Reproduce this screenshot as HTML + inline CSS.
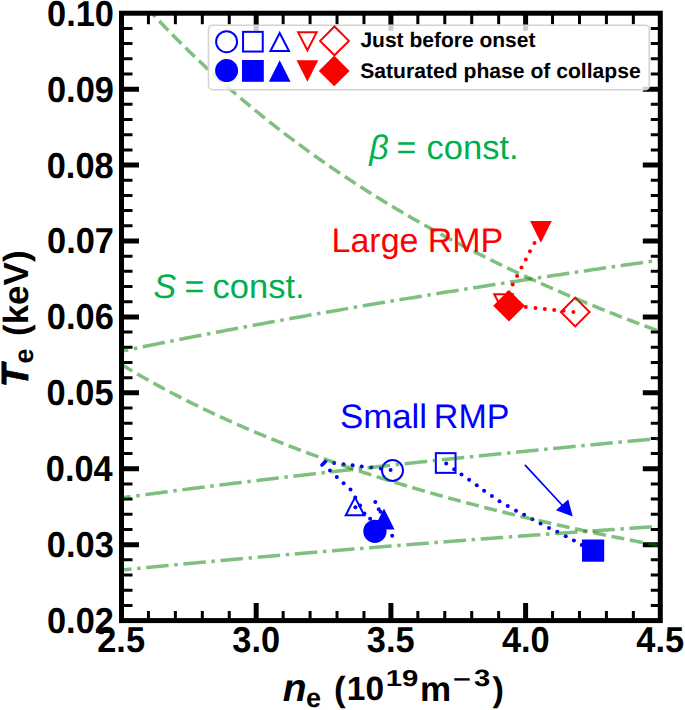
<!DOCTYPE html>
<html><head><meta charset="utf-8"><style>
html,body{margin:0;padding:0;background:#fff;}
svg{display:block;}
text{font-family:"Liberation Sans",sans-serif;text-rendering:geometricPrecision;}
</style></head><body>
<svg width="685" height="710" viewBox="0 0 685 710">
<defs><clipPath id="ax"><rect x="121.5" y="13.22" width="538.8" height="607.37"/></clipPath></defs>
<rect width="685" height="710" fill="#fff"/>
<path d="M256.2,620.59V603.09 M256.2,13.22V30.72 M390.9,620.59V603.09 M390.9,13.22V30.72 M525.6,620.59V603.09 M525.6,13.22V30.72 M121.5,544.67H139 M660.3,544.67H642.8 M121.5,468.75H139 M660.3,468.75H642.8 M121.5,392.82H139 M660.3,392.82H642.8 M121.5,316.9H139 M660.3,316.9H642.8 M121.5,240.98H139 M660.3,240.98H642.8 M121.5,165.06H139 M660.3,165.06H642.8 M121.5,89.14H139 M660.3,89.14H642.8" stroke="#000" stroke-width="5"/><path d="M148.44,620.59V611.09 M148.44,13.22V24.22 M175.38,620.59V611.09 M175.38,13.22V24.22 M202.32,620.59V611.09 M202.32,13.22V24.22 M229.26,620.59V611.09 M229.26,13.22V24.22 M283.14,620.59V611.09 M283.14,13.22V24.22 M310.08,620.59V611.09 M310.08,13.22V24.22 M337.02,620.59V611.09 M337.02,13.22V24.22 M363.96,620.59V611.09 M363.96,13.22V24.22 M417.84,620.59V611.09 M417.84,13.22V24.22 M444.78,620.59V611.09 M444.78,13.22V24.22 M471.72,620.59V611.09 M471.72,13.22V24.22 M498.66,620.59V611.09 M498.66,13.22V24.22 M552.54,620.59V611.09 M552.54,13.22V24.22 M579.48,620.59V611.09 M579.48,13.22V24.22 M606.42,620.59V611.09 M606.42,13.22V24.22 M633.36,620.59V611.09 M633.36,13.22V24.22 M121.5,605.4H132.5 M660.3,605.4H650.8 M121.5,590.22H132.5 M660.3,590.22H650.8 M121.5,575.04H132.5 M660.3,575.04H650.8 M121.5,559.85H132.5 M660.3,559.85H650.8 M121.5,529.48H132.5 M660.3,529.48H650.8 M121.5,514.3H132.5 M660.3,514.3H650.8 M121.5,499.11H132.5 M660.3,499.11H650.8 M121.5,483.93H132.5 M660.3,483.93H650.8 M121.5,453.56H132.5 M660.3,453.56H650.8 M121.5,438.38H132.5 M660.3,438.38H650.8 M121.5,423.19H132.5 M660.3,423.19H650.8 M121.5,408.01H132.5 M660.3,408.01H650.8 M121.5,377.64H132.5 M660.3,377.64H650.8 M121.5,362.46H132.5 M660.3,362.46H650.8 M121.5,347.27H132.5 M660.3,347.27H650.8 M121.5,332.09H132.5 M660.3,332.09H650.8 M121.5,301.72H132.5 M660.3,301.72H650.8 M121.5,286.54H132.5 M660.3,286.54H650.8 M121.5,271.35H132.5 M660.3,271.35H650.8 M121.5,256.17H132.5 M660.3,256.17H650.8 M121.5,225.8H132.5 M660.3,225.8H650.8 M121.5,210.61H132.5 M660.3,210.61H650.8 M121.5,195.43H132.5 M660.3,195.43H650.8 M121.5,180.25H132.5 M660.3,180.25H650.8 M121.5,149.88H132.5 M660.3,149.88H650.8 M121.5,134.69H132.5 M660.3,134.69H650.8 M121.5,119.51H132.5 M660.3,119.51H650.8 M121.5,104.33H132.5 M660.3,104.33H650.8 M121.5,73.96H132.5 M660.3,73.96H650.8 M121.5,58.77H132.5 M660.3,58.77H650.8 M121.5,43.59H132.5 M660.3,43.59H650.8 M121.5,28.4H132.5 M660.3,28.4H650.8" stroke="#000" stroke-width="3"/>
<g clip-path="url(#ax)">
<circle cx="392.5" cy="470.4" r="10.5" fill="none" stroke="#0000ff" stroke-width="2.0"/><rect x="435.85" y="453.15" width="19.7" height="19.7" fill="none" stroke="#0000ff" stroke-width="2.0"/><polygon points="355,497.35 345.75,515.25 364.25,515.25" fill="none" stroke="#0000ff" stroke-width="2.0" stroke-linejoin="miter"/><polygon points="384,508.6 373.4,529.6 394.6,529.6" fill="#0000ff"/><circle cx="374.9" cy="531.3" r="11.6" fill="#0000ff"/><rect x="582" y="539.5" width="22.2" height="22.2" fill="#0000ff"/><path d="M322,465 L325.5,461.5" stroke="#0000ff" stroke-width="3.6" stroke-linecap="round"/><circle cx="390.6" cy="469.9" r="2.0" fill="#0000ff"/><circle cx="380.8" cy="468.4" r="2.0" fill="#0000ff"/><circle cx="371.3" cy="467.6" r="2.0" fill="#0000ff"/><circle cx="361.7" cy="466.4" r="2.0" fill="#0000ff"/><circle cx="352.6" cy="465.3" r="2.0" fill="#0000ff"/><circle cx="343.5" cy="464.2" r="2.0" fill="#0000ff"/><circle cx="334.1" cy="463.1" r="2.0" fill="#0000ff"/><circle cx="330" cy="470.6" r="2.0" fill="#0000ff"/><circle cx="336.8" cy="477" r="2.0" fill="#0000ff"/><circle cx="343.6" cy="483.2" r="2.0" fill="#0000ff"/><circle cx="350.5" cy="489.6" r="2.0" fill="#0000ff"/><circle cx="355.3" cy="497.5" r="2.0" fill="#0000ff"/><circle cx="360.1" cy="505.4" r="2.0" fill="#0000ff"/><circle cx="364.4" cy="513.5" r="2.0" fill="#0000ff"/><circle cx="370.1" cy="518.7" r="2.0" fill="#0000ff"/><circle cx="355.4" cy="507.3" r="2.0" fill="#0000ff"/><circle cx="375.3" cy="502" r="2.0" fill="#0000ff"/><circle cx="378.7" cy="509.3" r="2.0" fill="#0000ff"/><circle cx="380.6" cy="511.8" r="2.0" fill="#0000ff"/><circle cx="392.2" cy="535.8" r="2.0" fill="#0000ff"/><circle cx="446.2" cy="463.4" r="2.0" fill="#0000ff"/><circle cx="454.2" cy="469.2" r="2.0" fill="#0000ff"/><circle cx="461.5" cy="474.6" r="2.0" fill="#0000ff"/><circle cx="469.1" cy="479.7" r="2.0" fill="#0000ff"/><circle cx="476.8" cy="485.3" r="2.0" fill="#0000ff"/><circle cx="484.1" cy="490.8" r="2.0" fill="#0000ff"/><circle cx="491.9" cy="495.9" r="2.0" fill="#0000ff"/><circle cx="499.5" cy="501.3" r="2.0" fill="#0000ff"/><circle cx="507.7" cy="506" r="2.0" fill="#0000ff"/><circle cx="516" cy="510.8" r="2.0" fill="#0000ff"/><circle cx="524.1" cy="514.7" r="2.0" fill="#0000ff"/><circle cx="532.4" cy="519.2" r="2.0" fill="#0000ff"/><circle cx="540.6" cy="523.4" r="2.0" fill="#0000ff"/><circle cx="549" cy="528" r="2.0" fill="#0000ff"/><circle cx="557.3" cy="531.8" r="2.0" fill="#0000ff"/><circle cx="565.7" cy="536.2" r="2.0" fill="#0000ff"/><circle cx="573.9" cy="540.6" r="2.0" fill="#0000ff"/><circle cx="581.8" cy="545" r="2.0" fill="#0000ff"/><polygon points="503.5,312.15 494.25,294.25 512.75,294.25" fill="none" stroke="#ff0000" stroke-width="2.0" stroke-linejoin="miter"/><polygon points="509,290 524.8,305.8 509,321.6 493.2,305.8" fill="#ff0000"/><polygon points="540.9,242.75 530.05,221.05 551.75,221.05" fill="#ff0000"/><polygon points="575.2,297.61 589.59,312 575.2,326.39 560.81,312" fill="none" stroke="#ff0000" stroke-width="2.0"/><circle cx="534.5" cy="243" r="2.0" fill="#ff0000"/><circle cx="530" cy="251.2" r="2.0" fill="#ff0000"/><circle cx="525.8" cy="259.5" r="2.0" fill="#ff0000"/><circle cx="521.5" cy="267.5" r="2.0" fill="#ff0000"/><circle cx="517.1" cy="276" r="2.0" fill="#ff0000"/><circle cx="512.7" cy="284.4" r="2.0" fill="#ff0000"/><circle cx="508.3" cy="292.7" r="2.0" fill="#ff0000"/><circle cx="503.8" cy="301.3" r="2.0" fill="#ff0000"/><circle cx="573.4" cy="311.9" r="2.0" fill="#ff0000"/><circle cx="563.6" cy="310.8" r="2.0" fill="#ff0000"/><circle cx="554.2" cy="310" r="2.0" fill="#ff0000"/><circle cx="544.8" cy="309" r="2.0" fill="#ff0000"/><circle cx="535.5" cy="308" r="2.0" fill="#ff0000"/><circle cx="525.8" cy="307" r="2.0" fill="#ff0000"/><circle cx="516.5" cy="306.4" r="2.0" fill="#ff0000"/>
<path d="M134.97,-5.54 L136.32,-4.01 L137.67,-2.49 L139.02,-0.98 L140.37,0.53 L141.72,2.03 L143.07,3.53 L144.42,5.02 L145.77,6.51 L147.12,7.99 L148.47,9.46 L149.82,10.93 L151.17,12.39 L152.52,13.85 L153.88,15.3 L155.23,16.74 L156.58,18.18 L157.93,19.62 L159.28,21.05 L160.63,22.47 L161.98,23.89 L163.33,25.3 L164.68,26.71 L166.03,28.11 L167.38,29.51 L168.73,30.9 L170.08,32.29 L171.43,33.67 L172.78,35.05 L174.13,36.42 L175.48,37.79 L176.83,39.15 L178.18,40.5 L179.53,41.85 L180.88,43.2 L182.23,44.54 L183.58,45.88 L184.93,47.21 L186.28,48.54 L187.63,49.86 L188.99,51.17 L190.34,52.49 L191.69,53.79 L193.04,55.1 L194.39,56.39 L195.74,57.69 L197.09,58.98 L198.44,60.26 L199.79,61.54 L201.14,62.81 L202.49,64.08 L203.84,65.35 L205.19,66.61 L206.54,67.87 L207.89,69.12 L209.24,70.37 L210.59,71.61 L211.94,72.85 L213.29,74.08 L214.64,75.31 L215.99,76.54 L217.34,77.76 L218.69,78.98 L220.04,80.19 L221.39,81.4 L222.74,82.6 L224.09,83.8 L225.45,85 L226.8,86.19 L228.15,87.38 L229.5,88.56 L230.85,89.74 L232.2,90.92 L233.55,92.09 L234.9,93.26 L236.25,94.42 L237.6,95.58 L238.95,96.74 L240.3,97.89 L241.65,99.03 L243,100.18 L244.35,101.32 L245.7,102.45 L247.05,103.59 L248.4,104.72 L249.75,105.84 L251.1,106.96 L252.45,108.08 L253.8,109.19 L255.15,110.3 L256.5,111.41 L257.85,112.51 L259.2,113.61 L260.55,114.7 L261.91,115.79 L263.26,116.88 L264.61,117.97 L265.96,119.05 L267.31,120.12 L268.66,121.2 L270.01,122.27 L271.36,123.33 L272.71,124.39 L274.06,125.45 L275.41,126.51 L276.76,127.56 L278.11,128.61 L279.46,129.66 L280.81,130.7 L282.16,131.74 L283.51,132.77 L284.86,133.81 L286.21,134.83 L287.56,135.86 L288.91,136.88 L290.26,137.9 L291.61,138.92 L292.96,139.93 L294.31,140.94 L295.66,141.94 L297.02,142.95 L298.37,143.95 L299.72,144.94 L301.07,145.94 L302.42,146.93 L303.77,147.91 L305.12,148.9 L306.47,149.88 L307.82,150.86 L309.17,151.83 L310.52,152.8 L311.87,153.77 L313.22,154.74 L314.57,155.7 L315.92,156.66 L317.27,157.62 L318.62,158.57 L319.97,159.52 L321.32,160.47 L322.67,161.41 L324.02,162.35 L325.37,163.29 L326.72,164.23 L328.07,165.16 L329.42,166.09 L330.77,167.02 L332.12,167.95 L333.48,168.87 L334.83,169.79 L336.18,170.7 L337.53,171.62 L338.88,172.53 L340.23,173.43 L341.58,174.34 L342.93,175.24 L344.28,176.14 L345.63,177.04 L346.98,177.93 L348.33,178.83 L349.68,179.71 L351.03,180.6 L352.38,181.48 L353.73,182.37 L355.08,183.24 L356.43,184.12 L357.78,184.99 L359.13,185.86 L360.48,186.73 L361.83,187.6 L363.18,188.46 L364.53,189.32 L365.88,190.18 L367.23,191.03 L368.59,191.89 L369.94,192.74 L371.29,193.58 L372.64,194.43 L373.99,195.27 L375.34,196.11 L376.69,196.95 L378.04,197.79 L379.39,198.62 L380.74,199.45 L382.09,200.28 L383.44,201.1 L384.79,201.93 L386.14,202.75 L387.49,203.57 L388.84,204.38 L390.19,205.2 L391.54,206.01 L392.89,206.82 L394.24,207.63 L395.59,208.43 L396.94,209.23 L398.29,210.04 L399.64,210.83 L400.99,211.63 L402.34,212.42 L403.69,213.21 L405.05,214 L406.4,214.79 L407.75,215.57 L409.1,216.36 L410.45,217.14 L411.8,217.91 L413.15,218.69 L414.5,219.46 L415.85,220.24 L417.2,221.01 L418.55,221.77 L419.9,222.54 L421.25,223.3 L422.6,224.06 L423.95,224.82 L425.3,225.58 L426.65,226.33 L428,227.08 L429.35,227.83 L430.7,228.58 L432.05,229.33 L433.4,230.07 L434.75,230.82 L436.1,231.56 L437.45,232.29 L438.8,233.03 L440.15,233.76 L441.51,234.5 L442.86,235.23 L444.21,235.95 L445.56,236.68 L446.91,237.41 L448.26,238.13 L449.61,238.85 L450.96,239.57 L452.31,240.28 L453.66,241 L455.01,241.71 L456.36,242.42 L457.71,243.13 L459.06,243.84 L460.41,244.54 L461.76,245.24 L463.11,245.95 L464.46,246.65 L465.81,247.34 L467.16,248.04 L468.51,248.73 L469.86,249.42 L471.21,250.11 L472.56,250.8 L473.91,251.49 L475.26,252.17 L476.62,252.86 L477.97,253.54 L479.32,254.22 L480.67,254.9 L482.02,255.57 L483.37,256.25 L484.72,256.92 L486.07,257.59 L487.42,258.26 L488.77,258.92 L490.12,259.59 L491.47,260.25 L492.82,260.92 L494.17,261.58 L495.52,262.23 L496.87,262.89 L498.22,263.55 L499.57,264.2 L500.92,264.85 L502.27,265.5 L503.62,266.15 L504.97,266.8 L506.32,267.44 L507.67,268.09 L509.02,268.73 L510.37,269.37 L511.72,270.01 L513.08,270.64 L514.43,271.28 L515.78,271.91 L517.13,272.55 L518.48,273.18 L519.83,273.8 L521.18,274.43 L522.53,275.06 L523.88,275.68 L525.23,276.31 L526.58,276.93 L527.93,277.55 L529.28,278.16 L530.63,278.78 L531.98,279.4 L533.33,280.01 L534.68,280.62 L536.03,281.23 L537.38,281.84 L538.73,282.45 L540.08,283.05 L541.43,283.66 L542.78,284.26 L544.13,284.86 L545.48,285.46 L546.83,286.06 L548.19,286.66 L549.54,287.25 L550.89,287.85 L552.24,288.44 L553.59,289.03 L554.94,289.62 L556.29,290.21 L557.64,290.8 L558.99,291.38 L560.34,291.96 L561.69,292.55 L563.04,293.13 L564.39,293.71 L565.74,294.29 L567.09,294.86 L568.44,295.44 L569.79,296.01 L571.14,296.59 L572.49,297.16 L573.84,297.73 L575.19,298.3 L576.54,298.86 L577.89,299.43 L579.24,299.99 L580.59,300.56 L581.94,301.12 L583.29,301.68 L584.65,302.24 L586,302.8 L587.35,303.35 L588.7,303.91 L590.05,304.46 L591.4,305.02 L592.75,305.57 L594.1,306.12 L595.45,306.67 L596.8,307.21 L598.15,307.76 L599.5,308.3 L600.85,308.85 L602.2,309.39 L603.55,309.93 L604.9,310.47 L606.25,311.01 L607.6,311.55 L608.95,312.08 L610.3,312.62 L611.65,313.15 L613,313.68 L614.35,314.22 L615.7,314.75 L617.05,315.27 L618.4,315.8 L619.75,316.33 L621.11,316.85 L622.46,317.38 L623.81,317.9 L625.16,318.42 L626.51,318.94 L627.86,319.46 L629.21,319.98 L630.56,320.49 L631.91,321.01 L633.26,321.52 L634.61,322.04 L635.96,322.55 L637.31,323.06 L638.66,323.57 L640.01,324.08 L641.36,324.59 L642.71,325.09 L644.06,325.6 L645.41,326.1 L646.76,326.6 L648.11,327.11 L649.46,327.61 L650.81,328.11 L652.16,328.6 L653.51,329.1 L654.86,329.6 L656.22,330.09 L657.57,330.59 L658.92,331.08 L660.27,331.57 L661.62,332.06 L662.97,332.55 L664.32,333.04 L665.67,333.53 L667.02,334.01 L668.37,334.5 L669.72,334.98 L671.07,335.46 L672.42,335.95 L673.77,336.43" fill="none" stroke="rgb(0,128,0)" stroke-opacity="0.5" stroke-width="3.52" stroke-dasharray="13.02 5.63" stroke-dashoffset="1.22"/><path d="M108.03,356.26 L109.45,357.15 L110.87,358.04 L112.28,358.92 L113.7,359.8 L115.12,360.68 L116.54,361.55 L117.96,362.42 L119.37,363.29 L120.79,364.15 L122.21,365.01 L123.63,365.87 L125.04,366.72 L126.46,367.57 L127.88,368.41 L129.3,369.25 L130.72,370.09 L132.13,370.92 L133.55,371.75 L134.97,372.58 L136.39,373.4 L137.81,374.22 L139.22,375.04 L140.64,375.85 L142.06,376.66 L143.48,377.47 L144.9,378.27 L146.31,379.07 L147.73,379.87 L149.15,380.67 L150.57,381.46 L151.98,382.24 L153.4,383.03 L154.82,383.81 L156.24,384.59 L157.66,385.36 L159.07,386.13 L160.49,386.9 L161.91,387.67 L163.33,388.43 L164.75,389.19 L166.16,389.95 L167.58,390.7 L169,391.45 L170.42,392.2 L171.84,392.94 L173.25,393.69 L174.67,394.42 L176.09,395.16 L177.51,395.89 L178.92,396.62 L180.34,397.35 L181.76,398.08 L183.18,398.8 L184.6,399.52 L186.01,400.23 L187.43,400.95 L188.85,401.66 L190.27,402.37 L191.69,403.07 L193.1,403.78 L194.52,404.48 L195.94,405.17 L197.36,405.87 L198.78,406.56 L200.19,407.25 L201.61,407.94 L203.03,408.62 L204.45,409.3 L205.86,409.98 L207.28,410.66 L208.7,411.33 L210.12,412.01 L211.54,412.68 L212.95,413.34 L214.37,414.01 L215.79,414.67 L217.21,415.33 L218.63,415.99 L220.04,416.64 L221.46,417.29 L222.88,417.94 L224.3,418.59 L225.72,419.23 L227.13,419.88 L228.55,420.52 L229.97,421.16 L231.39,421.79 L232.8,422.43 L234.22,423.06 L235.64,423.69 L237.06,424.31 L238.48,424.94 L239.89,425.56 L241.31,426.18 L242.73,426.8 L244.15,427.41 L245.57,428.03 L246.98,428.64 L248.4,429.25 L249.82,429.85 L251.24,430.46 L252.66,431.06 L254.07,431.66 L255.49,432.26 L256.91,432.85 L258.33,433.45 L259.74,434.04 L261.16,434.63 L262.58,435.22 L264,435.81 L265.42,436.39 L266.83,436.97 L268.25,437.55 L269.67,438.13 L271.09,438.7 L272.51,439.28 L273.92,439.85 L275.34,440.42 L276.76,440.99 L278.18,441.55 L279.6,442.12 L281.01,442.68 L282.43,443.24 L283.85,443.8 L285.27,444.36 L286.68,444.91 L288.1,445.46 L289.52,446.01 L290.94,446.56 L292.36,447.11 L293.77,447.66 L295.19,448.2 L296.61,448.74 L298.03,449.28 L299.45,449.82 L300.86,450.36 L302.28,450.89 L303.7,451.42 L305.12,451.95 L306.54,452.48 L307.95,453.01 L309.37,453.54 L310.79,454.06 L312.21,454.58 L313.62,455.1 L315.04,455.62 L316.46,456.14 L317.88,456.66 L319.3,457.17 L320.71,457.68 L322.13,458.19 L323.55,458.7 L324.97,459.21 L326.39,459.71 L327.8,460.22 L329.22,460.72 L330.64,461.22 L332.06,461.72 L333.48,462.22 L334.89,462.71 L336.31,463.21 L337.73,463.7 L339.15,464.19 L340.56,464.68 L341.98,465.17 L343.4,465.66 L344.82,466.14 L346.24,466.62 L347.65,467.11 L349.07,467.59 L350.49,468.07 L351.91,468.54 L353.33,469.02 L354.74,469.49 L356.16,469.97 L357.58,470.44 L359,470.91 L360.42,471.38 L361.83,471.84 L363.25,472.31 L364.67,472.77 L366.09,473.24 L367.5,473.7 L368.92,474.16 L370.34,474.62 L371.76,475.07 L373.18,475.53 L374.59,475.98 L376.01,476.44 L377.43,476.89 L378.85,477.34 L380.27,477.79 L381.68,478.23 L383.1,478.68 L384.52,479.13 L385.94,479.57 L387.36,480.01 L388.77,480.45 L390.19,480.89 L391.61,481.33 L393.03,481.77 L394.44,482.2 L395.86,482.64 L397.28,483.07 L398.7,483.5 L400.12,483.93 L401.53,484.36 L402.95,484.79 L404.37,485.21 L405.79,485.64 L407.21,486.06 L408.62,486.49 L410.04,486.91 L411.46,487.33 L412.88,487.75 L414.3,488.16 L415.71,488.58 L417.13,489 L418.55,489.41 L419.97,489.82 L421.38,490.23 L422.8,490.64 L424.22,491.05 L425.64,491.46 L427.06,491.87 L428.47,492.27 L429.89,492.68 L431.31,493.08 L432.73,493.48 L434.15,493.89 L435.56,494.29 L436.98,494.68 L438.4,495.08 L439.82,495.48 L441.24,495.87 L442.65,496.27 L444.07,496.66 L445.49,497.05 L446.91,497.44 L448.32,497.83 L449.74,498.22 L451.16,498.61 L452.58,499 L454,499.38 L455.41,499.77 L456.83,500.15 L458.25,500.53 L459.67,500.91 L461.09,501.29 L462.5,501.67 L463.92,502.05 L465.34,502.43 L466.76,502.8 L468.18,503.18 L469.59,503.55 L471.01,503.92 L472.43,504.29 L473.85,504.67 L475.26,505.04 L476.68,505.4 L478.1,505.77 L479.52,506.14 L480.94,506.5 L482.35,506.87 L483.77,507.23 L485.19,507.59 L486.61,507.96 L488.03,508.32 L489.44,508.68 L490.86,509.03 L492.28,509.39 L493.7,509.75 L495.12,510.1 L496.53,510.46 L497.95,510.81 L499.37,511.17 L500.79,511.52 L502.2,511.87 L503.62,512.22 L505.04,512.57 L506.46,512.92 L507.88,513.26 L509.29,513.61 L510.71,513.95 L512.13,514.3 L513.55,514.64 L514.97,514.98 L516.38,515.33 L517.8,515.67 L519.22,516.01 L520.64,516.35 L522.06,516.68 L523.47,517.02 L524.89,517.36 L526.31,517.69 L527.73,518.03 L529.14,518.36 L530.56,518.69 L531.98,519.03 L533.4,519.36 L534.82,519.69 L536.23,520.02 L537.65,520.34 L539.07,520.67 L540.49,521 L541.91,521.32 L543.32,521.65 L544.74,521.97 L546.16,522.3 L547.58,522.62 L549,522.94 L550.41,523.26 L551.83,523.58 L553.25,523.9 L554.67,524.22 L556.08,524.54 L557.5,524.85 L558.92,525.17 L560.34,525.49 L561.76,525.8 L563.17,526.11 L564.59,526.43 L566.01,526.74 L567.43,527.05 L568.85,527.36 L570.26,527.67 L571.68,527.98 L573.1,528.29 L574.52,528.59 L575.94,528.9 L577.35,529.21 L578.77,529.51 L580.19,529.82 L581.61,530.12 L583.02,530.42 L584.44,530.72 L585.86,531.02 L587.28,531.33 L588.7,531.63 L590.11,531.92 L591.53,532.22 L592.95,532.52 L594.37,532.82 L595.79,533.11 L597.2,533.41 L598.62,533.7 L600.04,534 L601.46,534.29 L602.88,534.58 L604.29,534.87 L605.71,535.16 L607.13,535.45 L608.55,535.74 L609.96,536.03 L611.38,536.32 L612.8,536.61 L614.22,536.89 L615.64,537.18 L617.05,537.47 L618.47,537.75 L619.89,538.03 L621.31,538.32 L622.73,538.6 L624.14,538.88 L625.56,539.16 L626.98,539.44 L628.4,539.72 L629.82,540 L631.23,540.28 L632.65,540.56 L634.07,540.84 L635.49,541.11 L636.9,541.39 L638.32,541.66 L639.74,541.94 L641.16,542.21 L642.58,542.49 L643.99,542.76 L645.41,543.03 L646.83,543.3 L648.25,543.57 L649.67,543.84 L651.08,544.11 L652.5,544.38 L653.92,544.65 L655.34,544.92 L656.76,545.18 L658.17,545.45 L659.59,545.72 L661.01,545.98 L662.43,546.24 L663.84,546.51 L665.26,546.77 L666.68,547.03 L668.1,547.3 L669.52,547.56 L670.93,547.82 L672.35,548.08 L673.77,548.34" fill="none" stroke="rgb(0,128,0)" stroke-opacity="0.5" stroke-width="3.52" stroke-dasharray="13.02 5.63" stroke-dashoffset="3.23"/><path d="M94.56,356.89 L96.05,356.57 L97.53,356.26 L99.02,355.94 L100.5,355.62 L101.99,355.31 L103.47,354.99 L104.96,354.68 L106.44,354.36 L107.93,354.05 L109.41,353.73 L110.9,353.42 L112.38,353.11 L113.87,352.8 L115.36,352.48 L116.84,352.17 L118.33,351.86 L119.81,351.55 L121.3,351.24 L122.78,350.93 L124.27,350.62 L125.75,350.31 L127.24,350.01 L128.72,349.7 L130.21,349.39 L131.7,349.08 L133.18,348.78 L134.67,348.47 L136.15,348.17 L137.64,347.86 L139.12,347.56 L140.61,347.25 L142.09,346.95 L143.58,346.65 L145.06,346.34 L146.55,346.04 L148.03,345.74 L149.52,345.44 L151.01,345.14 L152.49,344.84 L153.98,344.54 L155.46,344.24 L156.95,343.94 L158.43,343.64 L159.92,343.34 L161.4,343.04 L162.89,342.74 L164.37,342.44 L165.86,342.15 L167.35,341.85 L168.83,341.55 L170.32,341.26 L171.8,340.96 L173.29,340.67 L174.77,340.37 L176.26,340.08 L177.74,339.79 L179.23,339.49 L180.71,339.2 L182.2,338.91 L183.68,338.62 L185.17,338.32 L186.66,338.03 L188.14,337.74 L189.63,337.45 L191.11,337.16 L192.6,336.87 L194.08,336.58 L195.57,336.29 L197.05,336 L198.54,335.72 L200.02,335.43 L201.51,335.14 L203,334.85 L204.48,334.57 L205.97,334.28 L207.45,333.99 L208.94,333.71 L210.42,333.42 L211.91,333.14 L213.39,332.85 L214.88,332.57 L216.36,332.28 L217.85,332 L219.33,331.72 L220.82,331.44 L222.31,331.15 L223.79,330.87 L225.28,330.59 L226.76,330.31 L228.25,330.03 L229.73,329.75 L231.22,329.47 L232.7,329.19 L234.19,328.91 L235.67,328.63 L237.16,328.35 L238.65,328.07 L240.13,327.79 L241.62,327.51 L243.1,327.24 L244.59,326.96 L246.07,326.68 L247.56,326.41 L249.04,326.13 L250.53,325.86 L252.01,325.58 L253.5,325.31 L254.98,325.03 L256.47,324.76 L257.96,324.48 L259.44,324.21 L260.93,323.94 L262.41,323.66 L263.9,323.39 L265.38,323.12 L266.87,322.85 L268.35,322.57 L269.84,322.3 L271.32,322.03 L272.81,321.76 L274.3,321.49 L275.78,321.22 L277.27,320.95 L278.75,320.68 L280.24,320.41 L281.72,320.14 L283.21,319.87 L284.69,319.61 L286.18,319.34 L287.66,319.07 L289.15,318.8 L290.63,318.54 L292.12,318.27 L293.61,318 L295.09,317.74 L296.58,317.47 L298.06,317.21 L299.55,316.94 L301.03,316.68 L302.52,316.41 L304,316.15 L305.49,315.89 L306.97,315.62 L308.46,315.36 L309.94,315.1 L311.43,314.83 L312.92,314.57 L314.4,314.31 L315.89,314.05 L317.37,313.79 L318.86,313.53 L320.34,313.26 L321.83,313 L323.31,312.74 L324.8,312.48 L326.28,312.22 L327.77,311.96 L329.26,311.71 L330.74,311.45 L332.23,311.19 L333.71,310.93 L335.2,310.67 L336.68,310.42 L338.17,310.16 L339.65,309.9 L341.14,309.64 L342.62,309.39 L344.11,309.13 L345.59,308.88 L347.08,308.62 L348.57,308.37 L350.05,308.11 L351.54,307.86 L353.02,307.6 L354.51,307.35 L355.99,307.09 L357.48,306.84 L358.96,306.59 L360.45,306.33 L361.93,306.08 L363.42,305.83 L364.91,305.58 L366.39,305.32 L367.88,305.07 L369.36,304.82 L370.85,304.57 L372.33,304.32 L373.82,304.07 L375.3,303.82 L376.79,303.57 L378.27,303.32 L379.76,303.07 L381.24,302.82 L382.73,302.57 L384.22,302.32 L385.7,302.07 L387.19,301.82 L388.67,301.58 L390.16,301.33 L391.64,301.08 L393.13,300.83 L394.61,300.59 L396.1,300.34 L397.58,300.09 L399.07,299.85 L400.56,299.6 L402.04,299.36 L403.53,299.11 L405.01,298.87 L406.5,298.62 L407.98,298.38 L409.47,298.13 L410.95,297.89 L412.44,297.64 L413.92,297.4 L415.41,297.16 L416.89,296.91 L418.38,296.67 L419.87,296.43 L421.35,296.19 L422.84,295.94 L424.32,295.7 L425.81,295.46 L427.29,295.22 L428.78,294.98 L430.26,294.74 L431.75,294.5 L433.23,294.26 L434.72,294.01 L436.21,293.77 L437.69,293.54 L439.18,293.3 L440.66,293.06 L442.15,292.82 L443.63,292.58 L445.12,292.34 L446.6,292.1 L448.09,291.86 L449.57,291.63 L451.06,291.39 L452.54,291.15 L454.03,290.91 L455.52,290.68 L457,290.44 L458.49,290.2 L459.97,289.97 L461.46,289.73 L462.94,289.5 L464.43,289.26 L465.91,289.03 L467.4,288.79 L468.88,288.56 L470.37,288.32 L471.86,288.09 L473.34,287.85 L474.83,287.62 L476.31,287.39 L477.8,287.15 L479.28,286.92 L480.77,286.69 L482.25,286.45 L483.74,286.22 L485.22,285.99 L486.71,285.76 L488.19,285.52 L489.68,285.29 L491.17,285.06 L492.65,284.83 L494.14,284.6 L495.62,284.37 L497.11,284.14 L498.59,283.91 L500.08,283.68 L501.56,283.45 L503.05,283.22 L504.53,282.99 L506.02,282.76 L507.5,282.53 L508.99,282.3 L510.48,282.07 L511.96,281.84 L513.45,281.62 L514.93,281.39 L516.42,281.16 L517.9,280.93 L519.39,280.7 L520.87,280.48 L522.36,280.25 L523.84,280.02 L525.33,279.8 L526.82,279.57 L528.3,279.34 L529.79,279.12 L531.27,278.89 L532.76,278.67 L534.24,278.44 L535.73,278.22 L537.21,277.99 L538.7,277.77 L540.18,277.54 L541.67,277.32 L543.15,277.1 L544.64,276.87 L546.13,276.65 L547.61,276.42 L549.1,276.2 L550.58,275.98 L552.07,275.76 L553.55,275.53 L555.04,275.31 L556.52,275.09 L558.01,274.87 L559.49,274.64 L560.98,274.42 L562.47,274.2 L563.95,273.98 L565.44,273.76 L566.92,273.54 L568.41,273.32 L569.89,273.1 L571.38,272.88 L572.86,272.66 L574.35,272.44 L575.83,272.22 L577.32,272 L578.8,271.78 L580.29,271.56 L581.78,271.34 L583.26,271.12 L584.75,270.9 L586.23,270.68 L587.72,270.47 L589.2,270.25 L590.69,270.03 L592.17,269.81 L593.66,269.6 L595.14,269.38 L596.63,269.16 L598.12,268.94 L599.6,268.73 L601.09,268.51 L602.57,268.29 L604.06,268.08 L605.54,267.86 L607.03,267.65 L608.51,267.43 L610,267.22 L611.48,267 L612.97,266.79 L614.45,266.57 L615.94,266.36 L617.43,266.14 L618.91,265.93 L620.4,265.71 L621.88,265.5 L623.37,265.29 L624.85,265.07 L626.34,264.86 L627.82,264.65 L629.31,264.43 L630.79,264.22 L632.28,264.01 L633.77,263.79 L635.25,263.58 L636.74,263.37 L638.22,263.16 L639.71,262.95 L641.19,262.73 L642.68,262.52 L644.16,262.31 L645.65,262.1 L647.13,261.89 L648.62,261.68 L650.1,261.47 L651.59,261.26 L653.08,261.05 L654.56,260.84 L656.05,260.63 L657.53,260.42 L659.02,260.21 L660.5,260 L661.99,259.79 L663.47,259.58 L664.96,259.37 L666.44,259.16 L667.93,258.96 L669.42,258.75 L670.9,258.54 L672.39,258.33 L673.87,258.12 L675.36,257.92 L676.84,257.71 L678.33,257.5 L679.81,257.29 L681.3,257.09 L682.78,256.88 L684.27,256.67 L685.75,256.47 L687.24,256.26" fill="none" stroke="rgb(0,128,0)" stroke-opacity="0.5" stroke-width="3.52" stroke-dasharray="22.52 5.63 3.52 5.63" stroke-dashoffset="25.39"/><path d="M94.56,501.54 L96.05,501.33 L97.53,501.12 L99.02,500.92 L100.5,500.71 L101.99,500.5 L103.47,500.3 L104.96,500.09 L106.44,499.89 L107.93,499.68 L109.41,499.48 L110.9,499.27 L112.38,499.07 L113.87,498.87 L115.36,498.66 L116.84,498.46 L118.33,498.26 L119.81,498.06 L121.3,497.85 L122.78,497.65 L124.27,497.45 L125.75,497.25 L127.24,497.05 L128.72,496.85 L130.21,496.65 L131.7,496.45 L133.18,496.25 L134.67,496.05 L136.15,495.85 L137.64,495.65 L139.12,495.45 L140.61,495.25 L142.09,495.06 L143.58,494.86 L145.06,494.66 L146.55,494.46 L148.03,494.27 L149.52,494.07 L151.01,493.87 L152.49,493.68 L153.98,493.48 L155.46,493.29 L156.95,493.09 L158.43,492.9 L159.92,492.7 L161.4,492.51 L162.89,492.31 L164.37,492.12 L165.86,491.93 L167.35,491.73 L168.83,491.54 L170.32,491.35 L171.8,491.15 L173.29,490.96 L174.77,490.77 L176.26,490.58 L177.74,490.39 L179.23,490.19 L180.71,490 L182.2,489.81 L183.68,489.62 L185.17,489.43 L186.66,489.24 L188.14,489.05 L189.63,488.86 L191.11,488.67 L192.6,488.49 L194.08,488.3 L195.57,488.11 L197.05,487.92 L198.54,487.73 L200.02,487.54 L201.51,487.36 L203,487.17 L204.48,486.98 L205.97,486.8 L207.45,486.61 L208.94,486.42 L210.42,486.24 L211.91,486.05 L213.39,485.87 L214.88,485.68 L216.36,485.5 L217.85,485.31 L219.33,485.13 L220.82,484.94 L222.31,484.76 L223.79,484.57 L225.28,484.39 L226.76,484.21 L228.25,484.02 L229.73,483.84 L231.22,483.66 L232.7,483.48 L234.19,483.29 L235.67,483.11 L237.16,482.93 L238.65,482.75 L240.13,482.57 L241.62,482.39 L243.1,482.21 L244.59,482.02 L246.07,481.84 L247.56,481.66 L249.04,481.48 L250.53,481.3 L252.01,481.13 L253.5,480.95 L254.98,480.77 L256.47,480.59 L257.96,480.41 L259.44,480.23 L260.93,480.05 L262.41,479.87 L263.9,479.7 L265.38,479.52 L266.87,479.34 L268.35,479.16 L269.84,478.99 L271.32,478.81 L272.81,478.63 L274.3,478.46 L275.78,478.28 L277.27,478.11 L278.75,477.93 L280.24,477.76 L281.72,477.58 L283.21,477.41 L284.69,477.23 L286.18,477.06 L287.66,476.88 L289.15,476.71 L290.63,476.53 L292.12,476.36 L293.61,476.19 L295.09,476.01 L296.58,475.84 L298.06,475.67 L299.55,475.49 L301.03,475.32 L302.52,475.15 L304,474.98 L305.49,474.81 L306.97,474.63 L308.46,474.46 L309.94,474.29 L311.43,474.12 L312.92,473.95 L314.4,473.78 L315.89,473.61 L317.37,473.44 L318.86,473.27 L320.34,473.1 L321.83,472.93 L323.31,472.76 L324.8,472.59 L326.28,472.42 L327.77,472.25 L329.26,472.08 L330.74,471.91 L332.23,471.74 L333.71,471.57 L335.2,471.41 L336.68,471.24 L338.17,471.07 L339.65,470.9 L341.14,470.74 L342.62,470.57 L344.11,470.4 L345.59,470.24 L347.08,470.07 L348.57,469.9 L350.05,469.74 L351.54,469.57 L353.02,469.4 L354.51,469.24 L355.99,469.07 L357.48,468.91 L358.96,468.74 L360.45,468.58 L361.93,468.41 L363.42,468.25 L364.91,468.08 L366.39,467.92 L367.88,467.76 L369.36,467.59 L370.85,467.43 L372.33,467.26 L373.82,467.1 L375.3,466.94 L376.79,466.77 L378.27,466.61 L379.76,466.45 L381.24,466.29 L382.73,466.12 L384.22,465.96 L385.7,465.8 L387.19,465.64 L388.67,465.48 L390.16,465.31 L391.64,465.15 L393.13,464.99 L394.61,464.83 L396.1,464.67 L397.58,464.51 L399.07,464.35 L400.56,464.19 L402.04,464.03 L403.53,463.87 L405.01,463.71 L406.5,463.55 L407.98,463.39 L409.47,463.23 L410.95,463.07 L412.44,462.91 L413.92,462.75 L415.41,462.6 L416.89,462.44 L418.38,462.28 L419.87,462.12 L421.35,461.96 L422.84,461.8 L424.32,461.65 L425.81,461.49 L427.29,461.33 L428.78,461.17 L430.26,461.02 L431.75,460.86 L433.23,460.7 L434.72,460.55 L436.21,460.39 L437.69,460.23 L439.18,460.08 L440.66,459.92 L442.15,459.77 L443.63,459.61 L445.12,459.46 L446.6,459.3 L448.09,459.15 L449.57,458.99 L451.06,458.84 L452.54,458.68 L454.03,458.53 L455.52,458.37 L457,458.22 L458.49,458.06 L459.97,457.91 L461.46,457.76 L462.94,457.6 L464.43,457.45 L465.91,457.29 L467.4,457.14 L468.88,456.99 L470.37,456.84 L471.86,456.68 L473.34,456.53 L474.83,456.38 L476.31,456.23 L477.8,456.07 L479.28,455.92 L480.77,455.77 L482.25,455.62 L483.74,455.47 L485.22,455.31 L486.71,455.16 L488.19,455.01 L489.68,454.86 L491.17,454.71 L492.65,454.56 L494.14,454.41 L495.62,454.26 L497.11,454.11 L498.59,453.96 L500.08,453.81 L501.56,453.66 L503.05,453.51 L504.53,453.36 L506.02,453.21 L507.5,453.06 L508.99,452.91 L510.48,452.76 L511.96,452.61 L513.45,452.46 L514.93,452.32 L516.42,452.17 L517.9,452.02 L519.39,451.87 L520.87,451.72 L522.36,451.57 L523.84,451.43 L525.33,451.28 L526.82,451.13 L528.3,450.98 L529.79,450.84 L531.27,450.69 L532.76,450.54 L534.24,450.4 L535.73,450.25 L537.21,450.1 L538.7,449.96 L540.18,449.81 L541.67,449.66 L543.15,449.52 L544.64,449.37 L546.13,449.23 L547.61,449.08 L549.1,448.93 L550.58,448.79 L552.07,448.64 L553.55,448.5 L555.04,448.35 L556.52,448.21 L558.01,448.06 L559.49,447.92 L560.98,447.77 L562.47,447.63 L563.95,447.49 L565.44,447.34 L566.92,447.2 L568.41,447.05 L569.89,446.91 L571.38,446.77 L572.86,446.62 L574.35,446.48 L575.83,446.34 L577.32,446.19 L578.8,446.05 L580.29,445.91 L581.78,445.77 L583.26,445.62 L584.75,445.48 L586.23,445.34 L587.72,445.2 L589.2,445.05 L590.69,444.91 L592.17,444.77 L593.66,444.63 L595.14,444.49 L596.63,444.34 L598.12,444.2 L599.6,444.06 L601.09,443.92 L602.57,443.78 L604.06,443.64 L605.54,443.5 L607.03,443.36 L608.51,443.22 L610,443.08 L611.48,442.94 L612.97,442.8 L614.45,442.66 L615.94,442.52 L617.43,442.38 L618.91,442.24 L620.4,442.1 L621.88,441.96 L623.37,441.82 L624.85,441.68 L626.34,441.54 L627.82,441.4 L629.31,441.26 L630.79,441.12 L632.28,440.99 L633.77,440.85 L635.25,440.71 L636.74,440.57 L638.22,440.43 L639.71,440.29 L641.19,440.16 L642.68,440.02 L644.16,439.88 L645.65,439.74 L647.13,439.61 L648.62,439.47 L650.1,439.33 L651.59,439.19 L653.08,439.06 L654.56,438.92 L656.05,438.78 L657.53,438.65 L659.02,438.51 L660.5,438.37 L661.99,438.24 L663.47,438.1 L664.96,437.96 L666.44,437.83 L667.93,437.69 L669.42,437.56 L670.9,437.42 L672.39,437.29 L673.87,437.15 L675.36,437.01 L676.84,436.88 L678.33,436.74 L679.81,436.61 L681.3,436.47 L682.78,436.34 L684.27,436.2 L685.75,436.07 L687.24,435.94" fill="none" stroke="rgb(0,128,0)" stroke-opacity="0.5" stroke-width="3.52" stroke-dasharray="22.54 5.63 3.52 5.63" stroke-dashoffset="23.41"/><path d="M94.56,572.79 L96.05,572.64 L97.53,572.49 L99.02,572.34 L100.5,572.18 L101.99,572.03 L103.47,571.88 L104.96,571.73 L106.44,571.58 L107.93,571.43 L109.41,571.28 L110.9,571.13 L112.38,570.98 L113.87,570.83 L115.36,570.68 L116.84,570.53 L118.33,570.38 L119.81,570.23 L121.3,570.08 L122.78,569.93 L124.27,569.78 L125.75,569.63 L127.24,569.48 L128.72,569.34 L130.21,569.19 L131.7,569.04 L133.18,568.89 L134.67,568.75 L136.15,568.6 L137.64,568.45 L139.12,568.31 L140.61,568.16 L142.09,568.02 L143.58,567.87 L145.06,567.73 L146.55,567.58 L148.03,567.43 L149.52,567.29 L151.01,567.15 L152.49,567 L153.98,566.86 L155.46,566.71 L156.95,566.57 L158.43,566.42 L159.92,566.28 L161.4,566.14 L162.89,565.99 L164.37,565.85 L165.86,565.71 L167.35,565.57 L168.83,565.42 L170.32,565.28 L171.8,565.14 L173.29,565 L174.77,564.86 L176.26,564.72 L177.74,564.57 L179.23,564.43 L180.71,564.29 L182.2,564.15 L183.68,564.01 L185.17,563.87 L186.66,563.73 L188.14,563.59 L189.63,563.45 L191.11,563.31 L192.6,563.17 L194.08,563.03 L195.57,562.9 L197.05,562.76 L198.54,562.62 L200.02,562.48 L201.51,562.34 L203,562.2 L204.48,562.07 L205.97,561.93 L207.45,561.79 L208.94,561.65 L210.42,561.52 L211.91,561.38 L213.39,561.24 L214.88,561.11 L216.36,560.97 L217.85,560.83 L219.33,560.7 L220.82,560.56 L222.31,560.43 L223.79,560.29 L225.28,560.16 L226.76,560.02 L228.25,559.89 L229.73,559.75 L231.22,559.62 L232.7,559.48 L234.19,559.35 L235.67,559.21 L237.16,559.08 L238.65,558.95 L240.13,558.81 L241.62,558.68 L243.1,558.55 L244.59,558.41 L246.07,558.28 L247.56,558.15 L249.04,558.01 L250.53,557.88 L252.01,557.75 L253.5,557.62 L254.98,557.49 L256.47,557.35 L257.96,557.22 L259.44,557.09 L260.93,556.96 L262.41,556.83 L263.9,556.7 L265.38,556.57 L266.87,556.44 L268.35,556.31 L269.84,556.17 L271.32,556.04 L272.81,555.91 L274.3,555.78 L275.78,555.65 L277.27,555.53 L278.75,555.4 L280.24,555.27 L281.72,555.14 L283.21,555.01 L284.69,554.88 L286.18,554.75 L287.66,554.62 L289.15,554.49 L290.63,554.37 L292.12,554.24 L293.61,554.11 L295.09,553.98 L296.58,553.85 L298.06,553.73 L299.55,553.6 L301.03,553.47 L302.52,553.35 L304,553.22 L305.49,553.09 L306.97,552.97 L308.46,552.84 L309.94,552.71 L311.43,552.59 L312.92,552.46 L314.4,552.33 L315.89,552.21 L317.37,552.08 L318.86,551.96 L320.34,551.83 L321.83,551.71 L323.31,551.58 L324.8,551.46 L326.28,551.33 L327.77,551.21 L329.26,551.08 L330.74,550.96 L332.23,550.84 L333.71,550.71 L335.2,550.59 L336.68,550.46 L338.17,550.34 L339.65,550.22 L341.14,550.09 L342.62,549.97 L344.11,549.85 L345.59,549.72 L347.08,549.6 L348.57,549.48 L350.05,549.36 L351.54,549.23 L353.02,549.11 L354.51,548.99 L355.99,548.87 L357.48,548.75 L358.96,548.62 L360.45,548.5 L361.93,548.38 L363.42,548.26 L364.91,548.14 L366.39,548.02 L367.88,547.9 L369.36,547.78 L370.85,547.66 L372.33,547.53 L373.82,547.41 L375.3,547.29 L376.79,547.17 L378.27,547.05 L379.76,546.93 L381.24,546.81 L382.73,546.69 L384.22,546.58 L385.7,546.46 L387.19,546.34 L388.67,546.22 L390.16,546.1 L391.64,545.98 L393.13,545.86 L394.61,545.74 L396.1,545.62 L397.58,545.51 L399.07,545.39 L400.56,545.27 L402.04,545.15 L403.53,545.03 L405.01,544.92 L406.5,544.8 L407.98,544.68 L409.47,544.56 L410.95,544.45 L412.44,544.33 L413.92,544.21 L415.41,544.09 L416.89,543.98 L418.38,543.86 L419.87,543.74 L421.35,543.63 L422.84,543.51 L424.32,543.39 L425.81,543.28 L427.29,543.16 L428.78,543.05 L430.26,542.93 L431.75,542.82 L433.23,542.7 L434.72,542.58 L436.21,542.47 L437.69,542.35 L439.18,542.24 L440.66,542.12 L442.15,542.01 L443.63,541.89 L445.12,541.78 L446.6,541.67 L448.09,541.55 L449.57,541.44 L451.06,541.32 L452.54,541.21 L454.03,541.1 L455.52,540.98 L457,540.87 L458.49,540.75 L459.97,540.64 L461.46,540.53 L462.94,540.41 L464.43,540.3 L465.91,540.19 L467.4,540.07 L468.88,539.96 L470.37,539.85 L471.86,539.74 L473.34,539.62 L474.83,539.51 L476.31,539.4 L477.8,539.29 L479.28,539.18 L480.77,539.06 L482.25,538.95 L483.74,538.84 L485.22,538.73 L486.71,538.62 L488.19,538.51 L489.68,538.39 L491.17,538.28 L492.65,538.17 L494.14,538.06 L495.62,537.95 L497.11,537.84 L498.59,537.73 L500.08,537.62 L501.56,537.51 L503.05,537.4 L504.53,537.29 L506.02,537.18 L507.5,537.07 L508.99,536.96 L510.48,536.85 L511.96,536.74 L513.45,536.63 L514.93,536.52 L516.42,536.41 L517.9,536.3 L519.39,536.19 L520.87,536.08 L522.36,535.97 L523.84,535.86 L525.33,535.75 L526.82,535.65 L528.3,535.54 L529.79,535.43 L531.27,535.32 L532.76,535.21 L534.24,535.1 L535.73,535 L537.21,534.89 L538.7,534.78 L540.18,534.67 L541.67,534.56 L543.15,534.46 L544.64,534.35 L546.13,534.24 L547.61,534.13 L549.1,534.03 L550.58,533.92 L552.07,533.81 L553.55,533.71 L555.04,533.6 L556.52,533.49 L558.01,533.38 L559.49,533.28 L560.98,533.17 L562.47,533.07 L563.95,532.96 L565.44,532.85 L566.92,532.75 L568.41,532.64 L569.89,532.53 L571.38,532.43 L572.86,532.32 L574.35,532.22 L575.83,532.11 L577.32,532.01 L578.8,531.9 L580.29,531.8 L581.78,531.69 L583.26,531.59 L584.75,531.48 L586.23,531.38 L587.72,531.27 L589.2,531.17 L590.69,531.06 L592.17,530.96 L593.66,530.85 L595.14,530.75 L596.63,530.64 L598.12,530.54 L599.6,530.44 L601.09,530.33 L602.57,530.23 L604.06,530.12 L605.54,530.02 L607.03,529.92 L608.51,529.81 L610,529.71 L611.48,529.61 L612.97,529.5 L614.45,529.4 L615.94,529.3 L617.43,529.19 L618.91,529.09 L620.4,528.99 L621.88,528.89 L623.37,528.78 L624.85,528.68 L626.34,528.58 L627.82,528.47 L629.31,528.37 L630.79,528.27 L632.28,528.17 L633.77,528.07 L635.25,527.96 L636.74,527.86 L638.22,527.76 L639.71,527.66 L641.19,527.56 L642.68,527.46 L644.16,527.35 L645.65,527.25 L647.13,527.15 L648.62,527.05 L650.1,526.95 L651.59,526.85 L653.08,526.75 L654.56,526.65 L656.05,526.54 L657.53,526.44 L659.02,526.34 L660.5,526.24 L661.99,526.14 L663.47,526.04 L664.96,525.94 L666.44,525.84 L667.93,525.74 L669.42,525.64 L670.9,525.54 L672.39,525.44 L673.87,525.34 L675.36,525.24 L676.84,525.14 L678.33,525.04 L679.81,524.94 L681.3,524.84 L682.78,524.74 L684.27,524.64 L685.75,524.55 L687.24,524.45" fill="none" stroke="rgb(0,128,0)" stroke-opacity="0.5" stroke-width="3.52" stroke-dasharray="22.52 5.63 3.52 5.63" stroke-dashoffset="22.66"/>
</g>
<rect x="121.5" y="13.22" width="538.8" height="607.37" fill="none" stroke="#000" stroke-width="5.0" stroke-linejoin="miter"/>
<text transform="translate(46.96,633.09) scale(0.955,1)" font-size="36" font-weight="bold" font-style="normal" fill="#000" >0.02</text><text transform="translate(46.84,557.17) scale(0.955,1)" font-size="36" font-weight="bold" font-style="normal" fill="#000" >0.03</text><text transform="translate(45.77,481.25) scale(0.955,1)" font-size="36" font-weight="bold" font-style="normal" fill="#000" >0.04</text><text transform="translate(46.61,405.32) scale(0.955,1)" font-size="36" font-weight="bold" font-style="normal" fill="#000" >0.05</text><text transform="translate(46.84,329.4) scale(0.955,1)" font-size="36" font-weight="bold" font-style="normal" fill="#000" >0.06</text><text transform="translate(47.08,253.48) scale(0.955,1)" font-size="36" font-weight="bold" font-style="normal" fill="#000" >0.07</text><text transform="translate(46.72,177.56) scale(0.955,1)" font-size="36" font-weight="bold" font-style="normal" fill="#000" >0.08</text><text transform="translate(46.96,101.64) scale(0.955,1)" font-size="36" font-weight="bold" font-style="normal" fill="#000" >0.09</text><text transform="translate(47.08,25.72) scale(0.955,1)" font-size="36" font-weight="bold" font-style="normal" fill="#000" >0.10</text><text transform="translate(97.21,652.4) scale(0.955,1)" font-size="36" font-weight="bold" font-style="normal" fill="#000" >2.5</text><text transform="translate(232.32,652.4) scale(0.955,1)" font-size="36" font-weight="bold" font-style="normal" fill="#000" >3.0</text><text transform="translate(366.78,652.4) scale(0.955,1)" font-size="36" font-weight="bold" font-style="normal" fill="#000" >3.5</text><text transform="translate(501.9,652.4) scale(0.955,1)" font-size="36" font-weight="bold" font-style="normal" fill="#000" >4.0</text><text transform="translate(636.36,652.4) scale(0.955,1)" font-size="36" font-weight="bold" font-style="normal" fill="#000" >4.5</text>
<!-- axis labels -->
<g transform="translate(27.6,387.2) rotate(-90)"><text font-weight="bold" font-size="35"><tspan font-style="italic" font-size="38" stroke="#000" stroke-width="0.7">T</tspan><tspan font-size="27" x="23.7" dy="5.6">e</tspan><tspan x="51.2" dy="-5.6">(keV)</tspan></text></g>
<text transform="translate(282.68,700.6)" font-size="39" font-weight="bold" font-style="italic" fill="#000" >n</text><text transform="translate(306,706.5)" font-size="27" font-weight="bold" font-style="normal" fill="#000" >e</text><text transform="translate(334.05,700.6)" font-size="35" font-weight="bold" font-style="normal" fill="#000" >(</text><text transform="translate(346.77,700.2)" font-size="33.5" font-weight="bold" font-style="normal" fill="#000" >10</text><text transform="translate(385.69,686.3) scale(1.275,1)" font-size="23" font-weight="bold" font-style="normal" fill="#000" >19</text><text transform="translate(419.95,700.5)" font-size="35" font-weight="bold" font-style="normal" fill="#000" >m</text><rect x="454.3" y="678.2" width="15.4" height="2.4" fill="#000"/><text transform="translate(473.93,686.1) scale(1.24,1)" font-size="23.6" font-weight="bold" font-style="normal" fill="#000" >3</text><text transform="translate(492.57,700.6)" font-size="34.3" font-weight="bold" font-style="normal" fill="#000" >)</text>
<!-- legend -->
<rect x="208.5" y="25.2" width="440.8" height="64.5" rx="4" ry="4" fill="#fff" fill-opacity="0.8" stroke="#d4d4d4" stroke-width="1.6"/>
<circle cx="226.6" cy="41.7" r="10.5" fill="none" stroke="#0000ff" stroke-width="2.0"/><rect x="243.05" y="31.85" width="19.7" height="19.7" fill="none" stroke="#0000ff" stroke-width="2.0"/><polygon points="279.7,33.05 270.45,50.95 288.95,50.95" fill="none" stroke="#0000ff" stroke-width="2.0" stroke-linejoin="miter"/><polygon points="307.4,50.25 298.15,32.35 316.65,32.35" fill="none" stroke="#ff0000" stroke-width="2.0" stroke-linejoin="miter"/><polygon points="334.5,26.51 348.89,40.9 334.5,55.29 320.11,40.9" fill="none" stroke="#ff0000" stroke-width="2.0"/>
<circle cx="226.6" cy="70.6" r="11.5" fill="#0000ff"/><rect x="242" y="60" width="21.8" height="21.8" fill="#0000ff"/><polygon points="279.7,60.15 268.85,81.85 290.55,81.85" fill="#0000ff"/><polygon points="307.4,81.85 296.55,60.15 318.25,60.15" fill="#ff0000"/><polygon points="334.2,55.5 349.6,70.9 334.2,86.3 318.8,70.9" fill="#ff0000"/>
<text transform="translate(369.18,159)" font-size="34" font-weight="normal" font-style="italic" fill="#00b050" >β</text><text transform="translate(396.38,159)" font-size="34" font-weight="normal" font-style="normal" fill="#00b050" >=</text><text transform="translate(426.58,159) scale(1.015,1)" font-size="34" font-weight="normal" font-style="normal" fill="#00b050" >const.</text><text transform="translate(153.6,298.2)" font-size="34" font-weight="normal" font-style="italic" fill="#00b050" >S</text><text transform="translate(184.38,298.2)" font-size="34" font-weight="normal" font-style="normal" fill="#00b050" >=</text><text transform="translate(212.58,298.2) scale(1.015,1)" font-size="34" font-weight="normal" font-style="normal" fill="#00b050" >const.</text><text transform="translate(331.55,252.4)" font-size="34" font-weight="normal" font-style="normal" fill="#ff0000" >Large</text><text transform="translate(427.65,252.4)" font-size="34" font-weight="normal" font-style="normal" fill="#ff0000" >RMP</text><text transform="translate(339.93,427.9) scale(1.025,1)" font-size="34" font-weight="normal" font-style="normal" fill="#0000ff" >Small</text><text transform="translate(433.85,427.9)" font-size="34" font-weight="normal" font-style="normal" fill="#0000ff" >RMP</text><text transform="translate(360.43,47)" font-size="21" font-weight="bold" font-style="normal" fill="#000" >Just before onset</text><text transform="translate(360.17,77.8) scale(1.006,1)" font-size="21" font-weight="bold" font-style="normal" fill="#000" >Saturated phase of collapse</text>
<!-- arrow -->
<line x1="524.9" y1="464.9" x2="562.5" y2="505.5" stroke="#0000ff" stroke-width="1.7"/>
<polygon points="572.7,516.6 555.9,510.2 568.3,499.4" fill="#0000ff"/>
</svg>
</body></html>
